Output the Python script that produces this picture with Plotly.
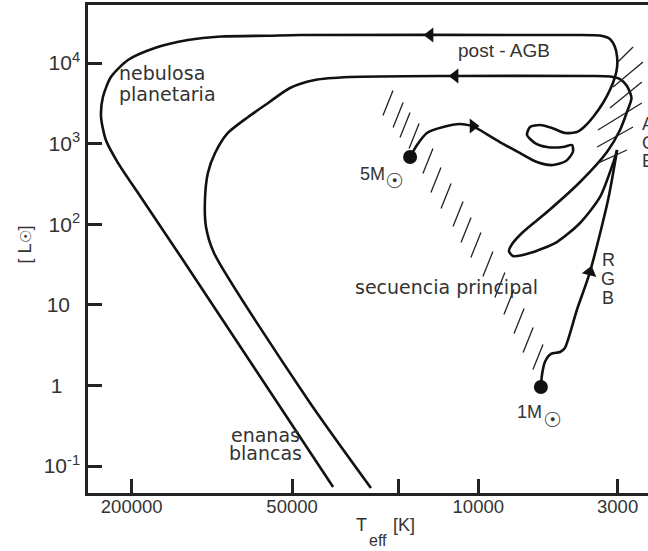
import plotly.graph_objects as go

# ---------------- data (log10 T_eff [K], log10 L [L_sun]) ----------------
# 5 M_sun track: ZAMS -> arrow
t5a_logT = [4.256, 4.230, 4.193, 4.132, 4.069, 4.020]
t5a_logL = [2.834, 2.983, 3.132, 3.206, 3.243, 3.218]
# 5 M_sun track: arrow -> giant hook -> AGB -> post-AGB -> planetary nebula -> white dwarf
t5b_logT = [4.020, 3.994, 3.919, 3.843, 3.780, 3.720, 3.671, 3.645, 3.648, 3.682,
            3.742, 3.787, 3.817, 3.806, 3.768, 3.723, 3.675, 3.630, 3.603, 3.569,
            3.532, 3.506, 3.487, 3.479, 3.479, 3.487, 3.506, 3.543, 3.693, 4.669,
            4.789, 4.966, 5.090, 5.214, 5.315, 5.379, 5.409, 5.416, 5.398, 5.352,
            5.277, 5.116, 4.545]
t5b_logL = [3.218, 3.169, 3.020, 2.883, 2.772, 2.734, 2.784, 2.896, 2.983, 2.958,
            2.958, 3.007, 3.107, 3.206, 3.231, 3.194, 3.132, 3.144, 3.206, 3.330,
            3.504, 3.665, 3.826, 3.950, 4.074, 4.199, 4.298, 4.341, 4.347, 4.347,
            4.339, 4.329, 4.285, 4.186, 4.037, 3.826, 3.578, 3.330, 3.045, 2.759,
            2.387, 1.593, -1.261]
# 1 M_sun track: ZAMS -> RGB tip
t1a_logT = [3.765, 3.761, 3.750, 3.727, 3.693, 3.675, 3.630, 3.581, 3.513, 3.479]
t1a_logL = [-0.020, 0.129, 0.290, 0.390, 0.414, 0.464, 0.936, 1.407, 2.300, 2.921]
# 1 M_sun track: RGB tip -> loop -> AGB -> post-AGB -> white dwarf
t1b_logT = [3.479, 3.494, 3.543, 3.618, 3.705, 3.806, 3.870, 3.885, 3.873, 3.832,
            3.742, 3.618, 3.517, 3.468, 3.442, 3.425, 3.442, 3.468, 3.506, 3.581,
            4.087, 4.482, 4.613, 4.707, 4.789, 4.864, 4.940, 4.988, 5.015, 5.026,
            5.022, 4.992, 4.639, 4.403]
t1b_logL = [2.921, 2.759, 2.338, 2.015, 1.779, 1.643, 1.606, 1.668, 1.754, 1.903,
            2.151, 2.524, 2.896, 3.169, 3.392, 3.566, 3.715, 3.801, 3.833, 3.839,
            3.839, 3.826, 3.789, 3.690, 3.504, 3.330, 3.132, 2.883, 2.635, 2.300,
            1.965, 1.643, -0.181, -1.273]

# direction arrows
arrow_logT = [4.181, 4.087, 4.020, 3.581]
arrow_logL = [4.347, 3.839, 3.218, 1.407]
arrow_sym = ["triangle-left", "triangle-left", "triangle-right", "triangle-up"]
arrow_ang = [0, 0, 0, 15]

# starting points (ZAMS)
dots_logT = [4.256, 3.765]
dots_logL = [2.834, -0.020]

# main-sequence hatch centres
ms_logT = [4.339, 4.301, 4.275, 4.241, 4.189, 4.159, 4.121, 4.076, 4.046, 4.009,
           3.964, 3.919, 3.885, 3.847, 3.813, 3.776]
ms_logL = [3.504, 3.355, 3.231, 3.094, 2.784, 2.548, 2.350, 2.127, 1.928, 1.742,
           1.506, 1.246, 1.035, 0.799, 0.563, 0.352]
ms_half = (0.0188, 0.155)

# AGB hatches (start/end)
agb_logT0 = [3.476, 3.494, 3.506, 3.551, 3.554, 3.551]
agb_logL0 = [4.012, 3.702, 3.442, 3.169, 2.958, 2.759]
agb_logT1 = [3.419, 3.382, 3.386, 3.386, 3.419, 3.442]
agb_logL1 = [4.199, 4.012, 3.764, 3.504, 3.206, 2.921]

# axis ticks
x_tickvals = [200000, 50000, 20000, 10000, 3000]
x_ticktext = ["200000", "50000", "", "10000", "3000"]
y_tickvals = [0.1, 1, 10, 100, 1000, 10000]
y_ticktext = ["10<sup>-1</sup>", "1\u00a0\u00a0\u00a0", "10\u00a0\u2009",
              "10<sup>2</sup>", "10<sup>3</sup>", "10<sup>4</sup>"]

# ---------------- figure ----------------
BLACK = "#111111"
TXT = "#333333"
fig = go.Figure()


def add_line(lt, ll, width=2.6):
    fig.add_trace(go.Scatter(
        x=[10 ** v for v in lt], y=[10 ** v for v in ll], mode="lines",
        line=dict(color=BLACK, width=width, shape="spline", smoothing=0.7),
        hoverinfo="skip", showlegend=False))


for lt, ll in [(t5a_logT, t5a_logL), (t5b_logT, t5b_logL),
               (t1a_logT, t1a_logL), (t1b_logT, t1b_logL)]:
    add_line(lt, ll)

# hatches
hx, hy = [], []
for lt, ll in zip(ms_logT, ms_logL):
    hx += [10 ** (lt + ms_half[0]), 10 ** (lt - ms_half[0]), None]
    hy += [10 ** (ll - ms_half[1]), 10 ** (ll + ms_half[1]), None]
for a, b, c, d in zip(agb_logT0, agb_logL0, agb_logT1, agb_logL1):
    hx += [10 ** a, 10 ** c, None]
    hy += [10 ** b, 10 ** d, None]
fig.add_trace(go.Scatter(x=hx, y=hy, mode="lines", line=dict(color="#222222", width=1.3),
                         hoverinfo="skip", showlegend=False))

# arrows
for lt, ll, s, a in zip(arrow_logT, arrow_logL, arrow_sym, arrow_ang):
    fig.add_trace(go.Scatter(x=[10 ** lt], y=[10 ** ll], mode="markers",
                             marker=dict(symbol=s, size=13, color=BLACK, angle=a, line=dict(width=0)),
                             hoverinfo="skip", showlegend=False))
# dots
fig.add_trace(go.Scatter(x=[10 ** v for v in dots_logT], y=[10 ** v for v in dots_logL], mode="markers",
                         marker=dict(size=14, color=BLACK), hoverinfo="skip", showlegend=False))

DJ = "DejaVu Sans"
LB = "Liberation Sans, Arial"
labels = [
    ("nebulosa", 5.352, 3.871, DJ, 19, "left"),
    ("planetaria", 5.354, 3.610, DJ, 19, "left"),
    ("post - AGB", 3.904, 4.161, LB, 19, "center"),
    ("secuencia principal", 4.121, 1.227, DJ, 19, "center"),
    ("enanas", 4.797, -0.615, DJ, 19, "center"),
    ("blancas", 4.797, -0.844, DJ, 19, "center"),
    ("5M", 4.399, 2.627, LB, 18, "center"),
    ("\u2609", 4.313, 2.536, DJ, 21, "center"),
    ("1M", 3.806, -0.326, LB, 18, "center"),
    ("\u2609", 3.720, -0.429, DJ, 21, "center"),
    ("R", 3.513, 1.556, LB, 18, "center"),
    ("G", 3.513, 1.315, LB, 18, "center"),
    ("B", 3.513, 1.084, LB, 18, "center"),
    ("A", 3.389, 3.243, LB, 18, "left"),
    ("G", 3.389, 3.007, LB, 18, "left"),
    ("B", 3.389, 2.784, LB, 18, "left"),
]
for text, lx, ly, fam, size, anc in labels:
    fig.add_annotation(x=lx, y=ly, xref="x", yref="y", text=text, showarrow=False,
                       xanchor=anc, yanchor="middle", borderpad=0,
                       font=dict(family=fam, size=size, color=TXT))

# axis titles
fig.add_annotation(x=0.4875, y=-0.0646, xref="paper", yref="paper", text="T", showarrow=False,
                   font=dict(family=LB, size=18, color=TXT), xanchor="center", yanchor="middle")
fig.add_annotation(x=0.5179, y=-0.0974, xref="paper", yref="paper", text="eff", showarrow=False,
                   font=dict(family=LB, size=16, color=TXT), xanchor="center", yanchor="middle")
fig.add_annotation(x=0.5643, y=-0.0646, xref="paper", yref="paper", text="[K]", showarrow=False,
                   font=dict(family=LB, size=18, color=TXT), xanchor="center", yanchor="middle")
fig.add_annotation(x=-0.112, y=0.51, xref="paper", yref="paper",
                   text="[ L<span style='font-size:15px'>\u2609</span>]",
                   textangle=-90, showarrow=False,
                   font=dict(family=LB, size=18, color=TXT), xanchor="center", yanchor="middle")

fig.update_layout(
    width=648, height=551, margin=dict(l=88, r=0, t=5, b=58),
    paper_bgcolor="white", plot_bgcolor="white", showlegend=False,
    xaxis=dict(type="log", range=[5.465, 3.363], tickvals=x_tickvals, ticktext=x_ticktext,
               ticks="inside", ticklen=14, tickwidth=2.5, tickcolor="#222222",
               showline=True, linewidth=2.5, linecolor="#222222", mirror=True,
               showgrid=False, zeroline=False, ticklabelstandoff=-5,
               tickfont=dict(family=LB, size=18.5, color=TXT)),
    yaxis=dict(type="log", range=[-1.335, 4.720], tickvals=y_tickvals, ticktext=y_ticktext,
               ticks="inside", ticklen=14, tickwidth=2.5, tickcolor="#222222",
               showline=True, linewidth=2.5, linecolor="#222222", mirror=False,
               showgrid=False, zeroline=False, ticklabelstandoff=1,
               tickfont=dict(family=LB, size=21, color=TXT)),
)

fig.write_html("out.html")
